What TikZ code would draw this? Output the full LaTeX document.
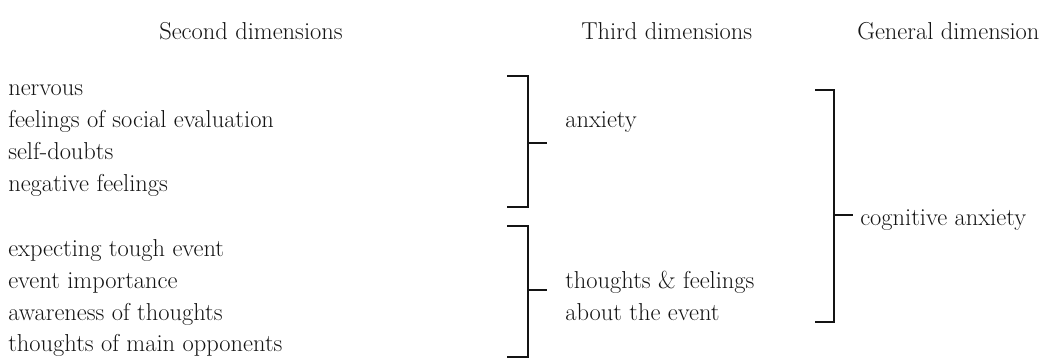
\documentclass[tikz,border=0pt]{standalone}
\usepackage{tikz}
\usetikzlibrary{positioning,calc}
\definecolor{ink}{RGB}{20,20,20}
\tikzset{
  txt/.style={anchor=base west,inner sep=0pt,text=ink,
    font=\fontsize{17.4pt}{20pt}\selectfont},
  head/.style={txt},
  bracket/.style={draw=ink,line width=1.2pt,line cap=butt},
}

\begin{document}
\begin{tikzpicture}[x=0.025cm,y=-0.025cm]
    \useasboundingbox (0,0) rectangle (1059,360);
    % column heads
    \node[head] (hsec) at (159,40) {Second dimensions};
    \node[head] (hthi) at (581,40) {Third dimensions};
    \node[head] (hgen) at (857,40) {General dimension};
    % second dimensions
    \node[txt] (nerv) at (8,96) {nervous};
    \node[txt] (feel) at (8,128) {feelings of social evaluation};
    \node[txt] (self) at (8,160) {self-doubts};
    \node[txt] (nega) at (8,192) {negative feelings};
    \node[txt] (expe) at (8,256) {expecting tough event};
    \node[txt] (impo) at (8,288) {event importance};
    \node[txt] (awar) at (8,320) {awareness of thoughts};
    \node[txt] (oppo) at (8,351) {thoughts of main opponents};
    % third dimensions
    \node[txt] (anx) at (565,128) {anxiety};
    \node[txt] (tho) at (565,288) {thoughts \& feelings};
    \node[txt] (abo) at (565,320) {about the event};
    % general dimension
    \node[txt] (cog) at (860,225) {cognitive anxiety};
    % brackets
    \draw[bracket] (507,76) -- (528,76) -- (528,207) -- (507,207);
    \coordinate (m1) at (528,143);
    \draw[bracket] (m1) -- ++(19,0);
    \draw[bracket] (507,226) -- (528,226) -- (528,357) -- (507,357);
    \coordinate (m2) at (528,290);
    \draw[bracket] (m2) -- ++(19,0);
    \draw[bracket] (815,90) -- (834,90) -- (834,322) -- (815,322);
    \coordinate (m3) at (834,215);
    \draw[bracket] (m3) -- ([xshift=-7*0.025cm]cog.west |- m3);
  \end{tikzpicture}
\end{document}
